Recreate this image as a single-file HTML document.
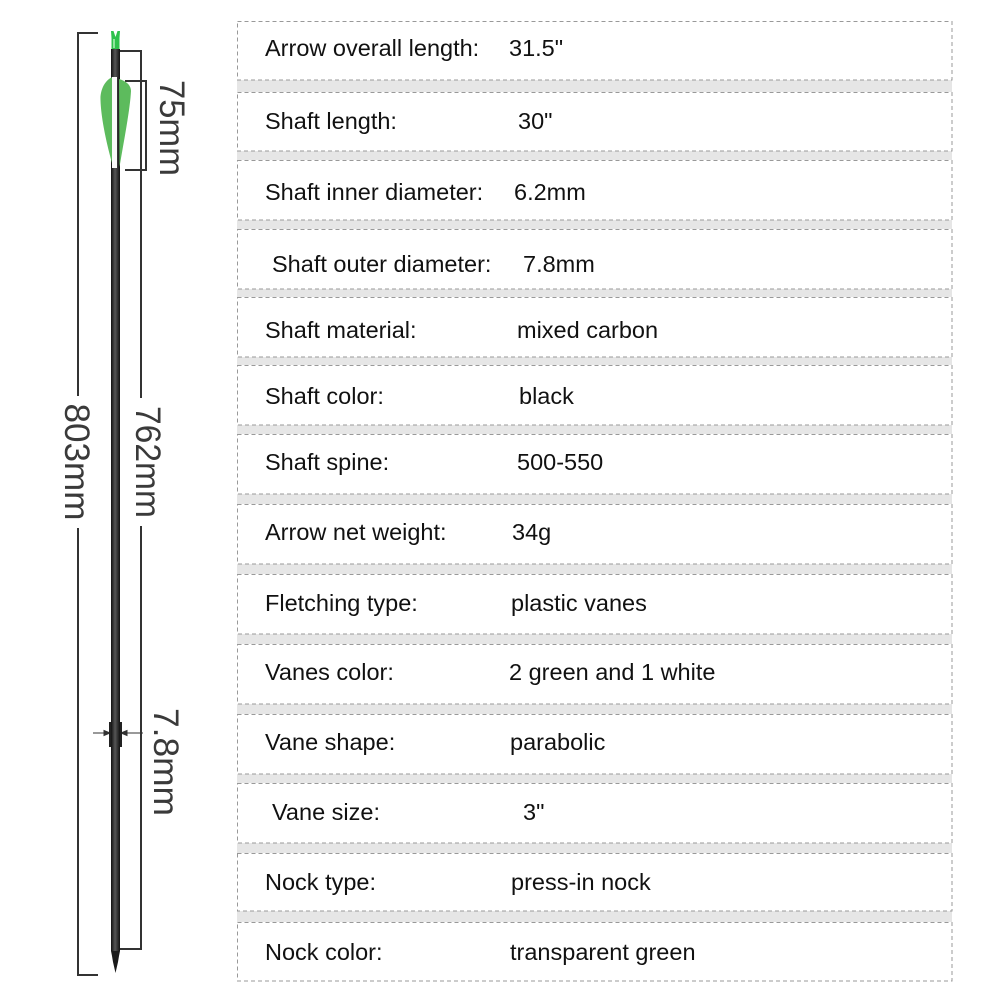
<!DOCTYPE html>
<html><head><meta charset="utf-8"><style>
html,body{margin:0;padding:0;background:#fff;}
svg{display:block;}
text{font-family:"Liberation Sans",Arial,sans-serif;}
</style></head><body>
<svg width="1000" height="1000" viewBox="0 0 1000 1000" xmlns="http://www.w3.org/2000/svg">
<defs>
<linearGradient id="sh" x1="0" x2="1" y1="0" y2="0">
<stop offset="0" stop-color="#111"/><stop offset="0.45" stop-color="#555"/><stop offset="0.6" stop-color="#444"/><stop offset="1" stop-color="#111"/>
</linearGradient>
</defs>
<!-- table bands -->
<g fill="#e6e6e6">
<rect x="237" y="80" width="715" height="12"/>
<rect x="237" y="151" width="715" height="9"/>
<rect x="237" y="220" width="715" height="9"/>
<rect x="237" y="289" width="715" height="8"/>
<rect x="237" y="357" width="715" height="8"/>
<rect x="237" y="425" width="715" height="9"/>
<rect x="237" y="494" width="715" height="10"/>
<rect x="237" y="564" width="715" height="10"/>
<rect x="237" y="634" width="715" height="10"/>
<rect x="237" y="704" width="715" height="10"/>
<rect x="237" y="774" width="715" height="9"/>
<rect x="237" y="843" width="715" height="10"/>
<rect x="237" y="911" width="715" height="11"/>
</g>
<g fill="none" stroke="#999" stroke-width="1" stroke-dasharray="4,3">
<rect x="237.5" y="21.5" width="714.5" height="58.5"/>
<rect x="237.5" y="92.5" width="714.5" height="58.5"/>
<rect x="237.5" y="160.5" width="714.5" height="59.5"/>
<rect x="237.5" y="229.5" width="714.5" height="59.5"/>
<rect x="237.5" y="297.5" width="714.5" height="59.5"/>
<rect x="237.5" y="365.5" width="714.5" height="59.5"/>
<rect x="237.5" y="434.5" width="714.5" height="59.5"/>
<rect x="237.5" y="504.5" width="714.5" height="59.5"/>
<rect x="237.5" y="574.5" width="714.5" height="59.5"/>
<rect x="237.5" y="644.5" width="714.5" height="59.5"/>
<rect x="237.5" y="714.5" width="714.5" height="59.5"/>
<rect x="237.5" y="783.5" width="714.5" height="59.5"/>
<rect x="237.5" y="853.5" width="714.5" height="57.5"/>
<rect x="237.5" y="922.5" width="714.5" height="58.5"/>
</g>
<g font-size="23.5" fill="#111">
<text x="265" y="56">Arrow overall length:</text><text x="509" y="56">31.5"</text>
<text x="265" y="129">Shaft length:</text><text x="518" y="129">30"</text>
<text x="265" y="200">Shaft inner diameter:</text><text x="514" y="200">6.2mm</text>
<text x="272" y="272">Shaft outer diameter:</text><text x="523" y="272">7.8mm</text>
<text x="265" y="338">Shaft material:</text><text x="517" y="338">mixed carbon</text>
<text x="265" y="404">Shaft color:</text><text x="519" y="404">black</text>
<text x="265" y="470">Shaft spine:</text><text x="517" y="470">500-550</text>
<text x="265" y="540">Arrow net weight:</text><text x="512" y="540">34g</text>
<text x="265" y="611">Fletching type:</text><text x="511" y="611">plastic vanes</text>
<text x="265" y="680">Vanes color:</text><text x="509" y="680">2 green and 1 white</text>
<text x="265" y="750">Vane shape:</text><text x="510" y="750">parabolic</text>
<text x="272" y="820">Vane size:</text><text x="523" y="820">3"</text>
<text x="265" y="890">Nock type:</text><text x="511" y="890">press-in nock</text>
<text x="265" y="960">Nock color:</text><text x="510" y="960">transparent green</text>
</g>
<!-- dimension brackets -->
<g stroke="#333" stroke-width="2" fill="none">
<polyline points="98,33 78,33 78,396"/>
<polyline points="78,528 78,975 98,975"/>
<polyline points="119,51 141,51 141,398"/>
<polyline points="141,526 141,949 119,949"/>
<polyline points="125,81 146,81 146,170 125,170"/>
</g>
<!-- arrow shaft -->
<rect x="111" y="49" width="9" height="902" fill="url(#sh)"/>
<!-- nock -->
<path d="M111.5,49 L111.5,38 L111,31 L113.5,31 L115.5,37 L117.5,31 L120,31 L119.5,38 L119.5,49 Z" fill="#2fc14c"/>
<rect x="113" y="39" width="2" height="9" fill="#8fe59d"/>
<!-- tip -->
<path d="M111,951 L120,951 L119,956 L118,962 L115.5,973 L113,962 L112,956 Z" fill="#1a1a1a"/>
<!-- vanes -->
<path d="M112.5,77 C105,80 100,90 100.5,100 C101,120 108,150 113.5,168 L113.5,77 Z" fill="#5dbb5d"/>
<path d="M119,79 C126,81 131,85 131,91 C130,110 124,140 119.5,167 Z" fill="#5dbb5d"/>
<rect x="112" y="77" width="5" height="91" fill="#fafafa"/>
<!-- diameter marker -->
<g stroke="#333" stroke-width="1" fill="#333">
<line x1="93" y1="733" x2="109" y2="733"/>
<line x1="122" y1="733" x2="143" y2="733"/>
<path d="M110,733 L104,730.5 L104,735.5 Z"/>
<path d="M121,733 L127,730.5 L127,735.5 Z"/>
</g>
<rect x="109" y="722" width="2" height="25" fill="#222"/>
<rect x="120" y="722" width="2" height="25" fill="#222"/>
<!-- dimension texts -->
<g font-size="35" fill="#3a3a3a">
<text transform="translate(65,462) rotate(90)" text-anchor="middle" textLength="117" lengthAdjust="spacingAndGlyphs">803mm</text>
<text transform="translate(136,462) rotate(90)" text-anchor="middle" textLength="112" lengthAdjust="spacingAndGlyphs">762mm</text>
<text transform="translate(160,128) rotate(90)" text-anchor="middle" textLength="96" lengthAdjust="spacingAndGlyphs">75mm</text>
<text transform="translate(154,762) rotate(90)" text-anchor="middle" textLength="108" lengthAdjust="spacingAndGlyphs">7.8mm</text>
</g>
</svg>
</body></html>
